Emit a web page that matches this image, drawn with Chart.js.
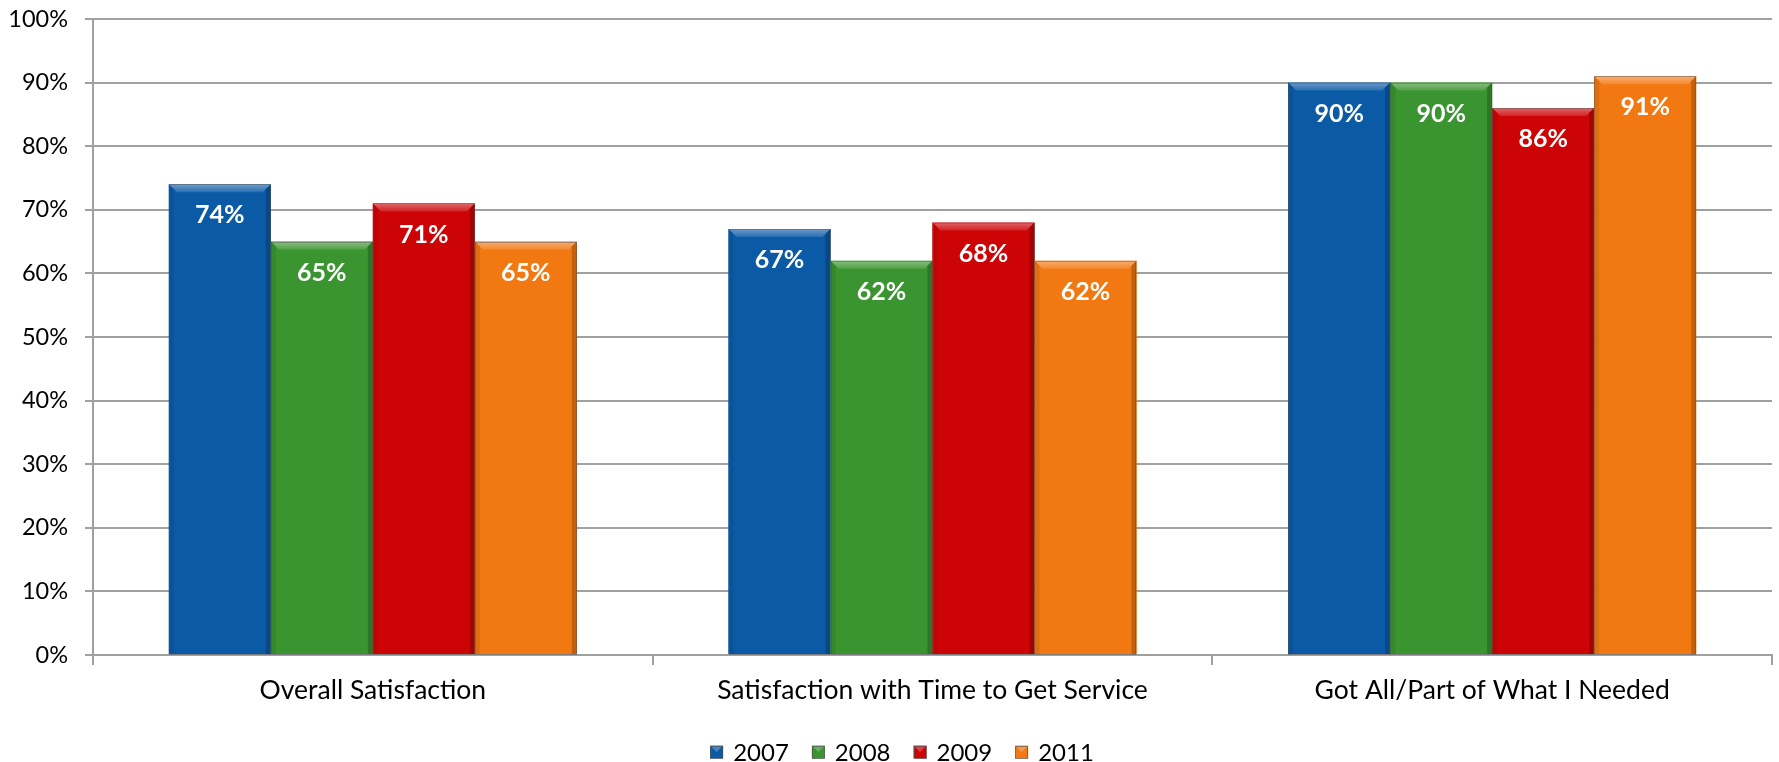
<!DOCTYPE html>
<html>
<head>
<meta charset="utf-8">
<title>Customer Satisfaction by Year</title>
<script src="https://cdn.jsdelivr.net/npm/chart.js@4.4.1/dist/chart.umd.min.js"></script>
<style>
  html, body { margin: 0; padding: 0; background: #ffffff; }
  #wrap { width: 1779px; height: 762px; position: relative; }
</style>
</head>
<body>
<div id="wrap"><canvas id="chart" width="1779" height="762"></canvas></div>
<script>
// Survey measures and yearly results (percent)
const categories = ['Overall Satisfaction', 'Satisfaction with Time to Get Service', 'Got All/Part of What I Needed'];
const years = ['2007', '2008', '2009', '2011'];
const values2007 = [74, 67, 90];
const values2008 = [65, 62, 90];
const values2009 = [71, 68, 86];
const values2011 = [65, 62, 91];
const yTicks = [0, 10, 20, 30, 40, 50, 60, 70, 80, 90, 100];

const seriesValues = [values2007, values2008, values2009, values2011];
const seriesColors = ['#0b5aa6', '#3a942f', '#cc0406', '#f27812'];
const FONT = 'Lato, "Open Sans", "DejaVu Sans", sans-serif';

function shade(hex, amt) {
  const n = parseInt(hex.slice(1), 16);
  let r = (n >> 16) & 255, g = (n >> 8) & 255, b = n & 255;
  const f = c => Math.max(0, Math.min(255, Math.round(amt >= 0 ? c + (255 - c) * amt : c * (1 + amt))));
  return `rgb(${f(r)},${f(g)},${f(b)})`;
}

// Bevelled bar faces: light top bevel, darker side edges, thin outline
const bevelPlugin = {
  id: 'bevel',
  afterDatasetsDraw(chart) {
    const ctx = chart.ctx;
    chart.data.datasets.forEach((ds, di) => {
      const meta = chart.getDatasetMeta(di);
      const base = seriesColors[di];
      meta.data.forEach(bar => {
        const x0 = bar.x - bar.width / 2, x1 = bar.x + bar.width / 2;
        const top = bar.y, bottom = bar.base;
        const b = 8;
        ctx.save();
        const g = ctx.createLinearGradient(0, top, 0, top + b);
        g.addColorStop(0, shade(base, 0.4));
        g.addColorStop(1, shade(base, 0.12));
        ctx.fillStyle = g;
        ctx.beginPath();
        ctx.moveTo(x0, top); ctx.lineTo(x1, top);
        ctx.lineTo(x1 - b, top + b); ctx.lineTo(x0 + b, top + b);
        ctx.closePath(); ctx.fill();
        ctx.fillStyle = shade(base, -0.2);
        ctx.beginPath();
        ctx.moveTo(x1, top); ctx.lineTo(x1, bottom);
        ctx.lineTo(x1 - 5, bottom); ctx.lineTo(x1 - 5, top + 5);
        ctx.closePath(); ctx.fill();
        ctx.fillStyle = shade(base, -0.08);
        ctx.beginPath();
        ctx.moveTo(x0, top); ctx.lineTo(x0 + 5, top + 5);
        ctx.lineTo(x0 + 5, bottom); ctx.lineTo(x0, bottom);
        ctx.closePath(); ctx.fill();
        ctx.strokeStyle = 'rgba(80,80,80,0.45)';
        ctx.lineWidth = 1;
        ctx.strokeRect(Math.round(x0) + 0.5, Math.round(top) + 0.5, Math.round(x1 - x0) - 1, Math.round(bottom - top));
        ctx.restore();
      });
    });
  }
};

// Value labels inside the top of each bar
const valueLabelPlugin = {
  id: 'valueLabels',
  afterDatasetsDraw(chart) {
    const ctx = chart.ctx;
    ctx.save();
    ctx.fillStyle = '#ffffff';
    ctx.font = `bold 25px ${FONT}`;
    ctx.textAlign = 'center';
    ctx.textBaseline = 'middle';
    chart.data.datasets.forEach((ds, di) => {
      chart.getDatasetMeta(di).data.forEach((bar, i) => {
        ctx.fillText(ds.data[i] + '%', bar.x, bar.y + 31);
      });
    });
    ctx.restore();
  }
};

// Legend row under the axis labels, built from the datasets
const legendRowPlugin = {
  id: 'legendRow',
  afterDraw(chart) {
    const ctx = chart.ctx;
    const box = 13, gapText = 10, gapItem = 23, cy = 752, centerX = 902;
    ctx.save();
    ctx.font = `24px ${FONT}`;
    ctx.textBaseline = 'middle';
    ctx.textAlign = 'left';
    const items = chart.data.datasets.map((ds, i) => ({ text: ds.label, color: seriesColors[i], w: ctx.measureText(ds.label).width }));
    const total = items.reduce((s, it) => s + box + gapText + it.w, 0) + gapItem * (items.length - 1);
    let x = centerX - total / 2;
    items.forEach(it => {
      const y0 = cy - box / 2;
      ctx.fillStyle = it.color;
      ctx.fillRect(x, y0, box, box);
      ctx.fillStyle = 'rgba(255,255,255,0.25)';
      ctx.beginPath();
      ctx.moveTo(x, y0); ctx.lineTo(x + box, y0); ctx.lineTo(x + box / 2, y0 + box / 2); ctx.closePath(); ctx.fill();
      ctx.strokeStyle = 'rgba(80,80,80,0.6)';
      ctx.lineWidth = 1;
      ctx.strokeRect(Math.round(x) + 0.5, Math.round(y0) + 0.5, box - 1, box - 1);
      ctx.fillStyle = '#000000';
      ctx.fillText(it.text, x + box + gapText, cy + 1);
      x += box + gapText + it.w + gapItem;
    });
    ctx.restore();
  }
};

new Chart(document.getElementById('chart'), {
  type: 'bar',
  data: {
    labels: categories,
    datasets: years.map((y, i) => ({
      label: y,
      data: seriesValues[i],
      backgroundColor: seriesColors[i],
      borderWidth: 0,
      categoryPercentage: 0.729,
      barPercentage: 1.0
    }))
  },
  options: {
    responsive: false,
    animation: false,
    layout: { padding: { top: 19, right: 7, left: 0, bottom: 0 } },
    plugins: {
      legend: { display: false },
      tooltip: { enabled: false }
    },
    scales: {
      x: {
        grid: { display: true, drawOnChartArea: false, offset: true, color: '#a0a0a0', lineWidth: 2, tickLength: 10 },
        border: { color: '#a0a0a0', width: 2 },
        ticks: { font: { family: FONT, size: 26.5 }, color: '#000000', padding: 10 },
        afterFit(scale) { scale.height = 107; scale.paddingLeft = 0; scale.paddingRight = 0; }
      },
      y: {
        min: 0,
        max: 100,
        afterBuildTicks(scale) { scale.ticks = yTicks.map(v => ({ value: v })); },
        grid: { color: '#a0a0a0', lineWidth: 2, tickLength: 8 },
        border: { color: '#a0a0a0', width: 2 },
        ticks: { font: { family: FONT, size: 23.5 }, color: '#000000', padding: 17, callback: v => v + '%' },
        afterFit(scale) { scale.width = 93; scale.paddingTop = 0; scale.paddingBottom = 0; }
      }
    }
  },
  plugins: [bevelPlugin, valueLabelPlugin, legendRowPlugin]
});
</script>
</body>
</html>
